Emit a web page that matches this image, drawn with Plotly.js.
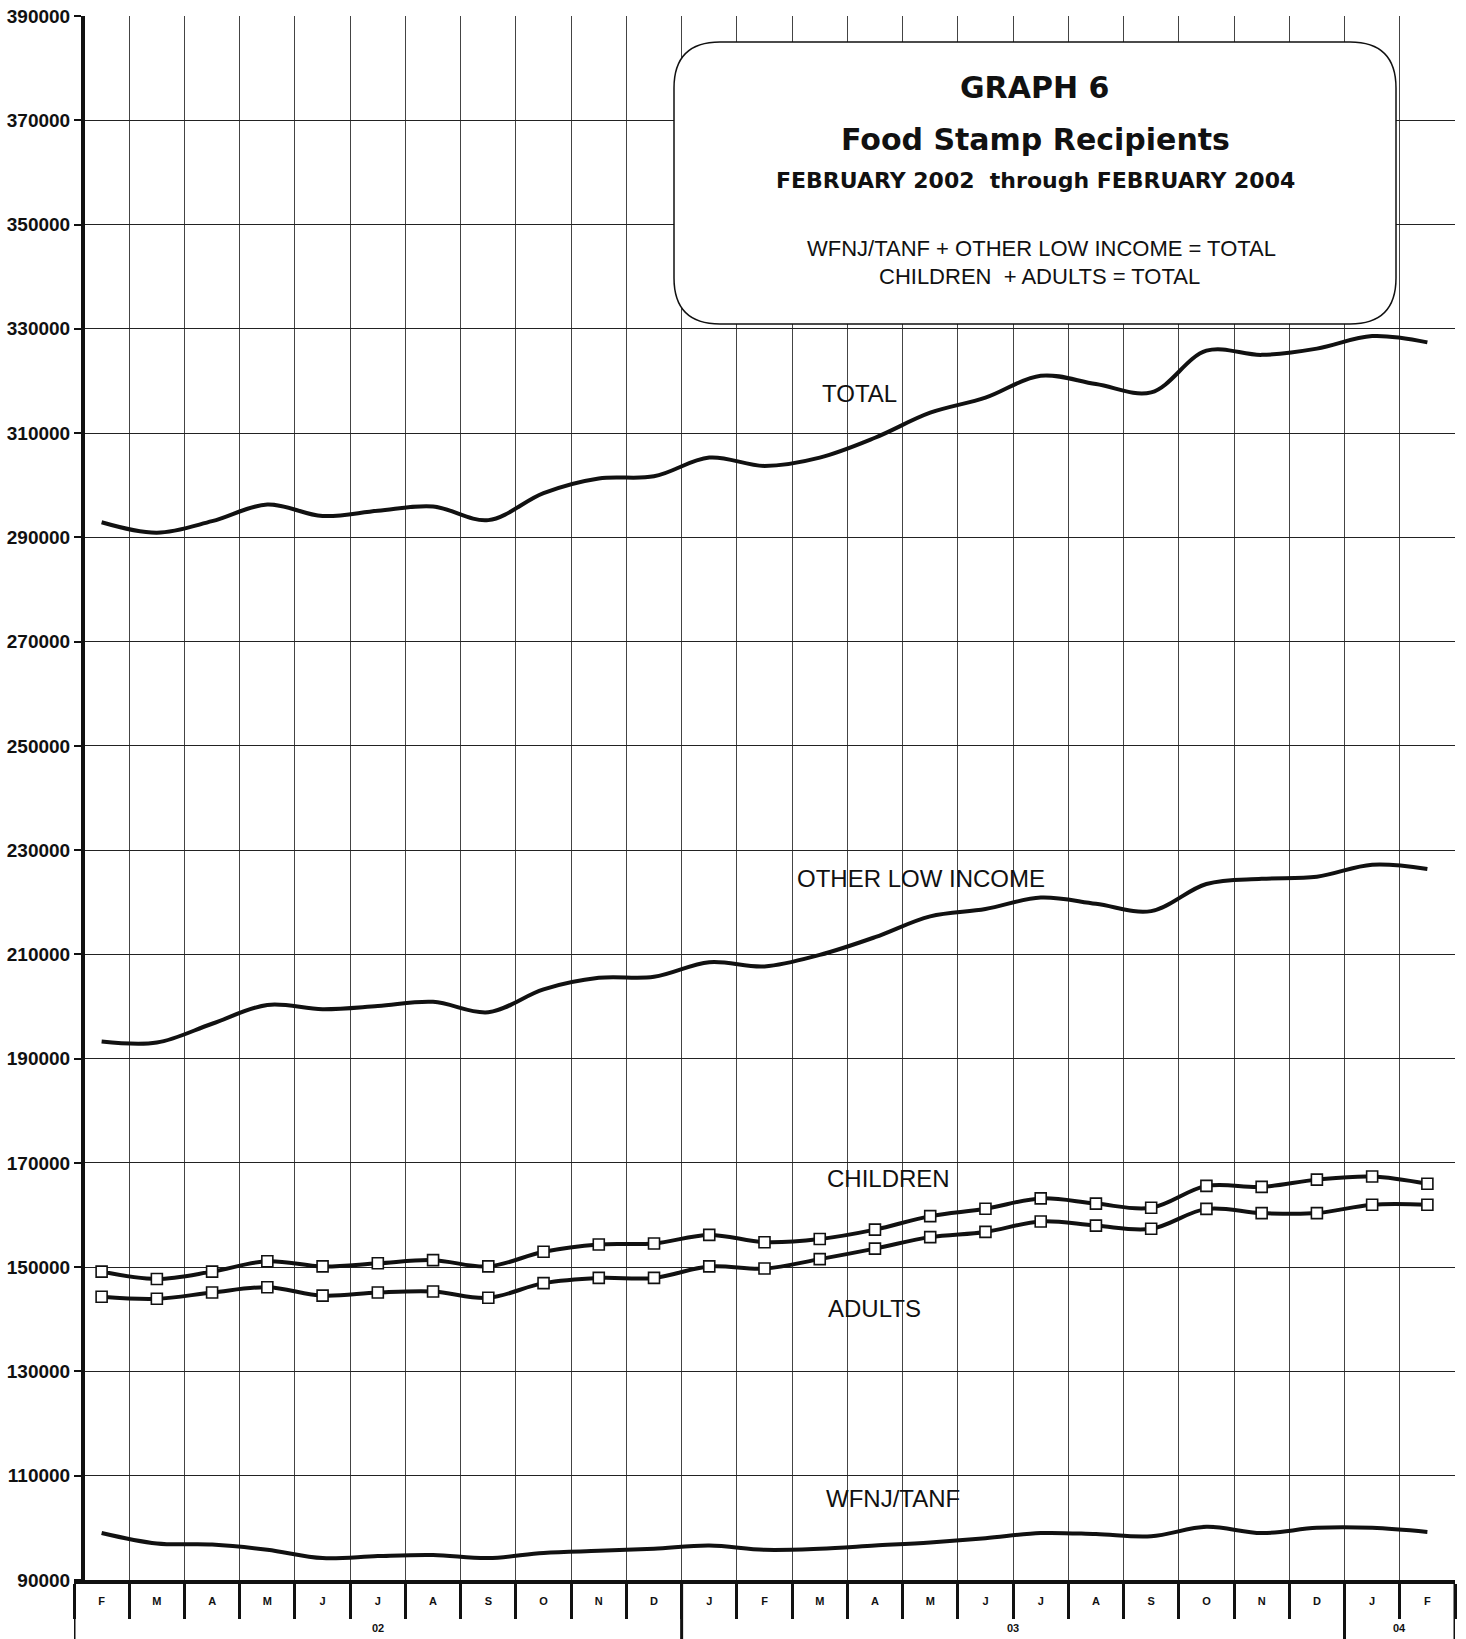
<!DOCTYPE html>
<html>
<head>
<meta charset="utf-8">
<script src="https://cdn.plot.ly/plotly-3.0.1.min.js"></script>
<style>
html,body{margin:0;padding:0;background:#fff;}
#chart{width:1466px;height:1639px;}
</style>
</head>
<body>
<div id="chart"></div>
<script>
// ---- data ----
const periods = ["Feb 02","Mar 02","Apr 02","May 02","Jun 02","Jul 02","Aug 02","Sep 02","Oct 02","Nov 02","Dec 02",
                 "Jan 03","Feb 03","Mar 03","Apr 03","May 03","Jun 03","Jul 03","Aug 03","Sep 03","Oct 03","Nov 03","Dec 03",
                 "Jan 04","Feb 04"];
const monthLetters = ["F","M","A","M","J","J","A","S","O","N","D","J","F","M","A","M","J","J","A","S","O","N","D","J","F"];
const yearLabels = ["02","03","04"];
const yearCenters = [5, 16.5, 23.5];
const yearDividers = [-0.5, 10.5, 22.5, 24.5];

const total    = [292900,290900,293100,296300,294100,295100,295900,293300,298500,301300,301700,
                  305300,303700,305300,309100,313900,316800,321000,319400,317800,325800,325000,326200,328600,327400];
const otherLow = [193300,193100,196700,200300,199500,200100,200900,198900,203300,205500,205700,
                  208500,207700,209900,213300,217300,218700,220900,219700,218300,223500,224500,224900,227200,226400];
const children = [149150,147750,149150,151150,150150,150750,151350,150150,152950,154350,154550,
                  156200,154800,155400,157200,159800,161200,163200,162200,161400,165600,165400,166800,167400,166000];
const adults   = [144340,143940,145140,146150,144540,145140,145340,144140,146950,147950,147950,
                  150150,149750,151550,153560,155770,156770,158780,157980,157380,161190,160380,160380,161990,161990];
const wfnj     = [99020,97000,96800,95800,94200,94600,94800,94200,95200,95600,96000,
                  96600,95800,96000,96600,97200,98000,99000,98800,98400,100200,99000,100000,100000,99200];

// ---- geometry helpers (pixel -> paper) ----
const W = 1466, H = 1639;
const L = 74, R = 1455, T = 16, B = 1580;
const px = p => (p - L) / (R - L);
const py = p => (B - p) / (B - T);

const lineStyle = {color:'#111', width:4, shape:'spline', smoothing:1};
const markerStyle = {symbol:'square', size:11, color:'#fff', line:{color:'#111', width:1.6}};

const traces = [
  {x:periods, y:total, mode:'lines', line:lineStyle, name:'TOTAL'},
  {x:periods, y:otherLow, mode:'lines', line:lineStyle, name:'OTHER LOW INCOME'},
  {x:periods, y:children, mode:'lines+markers', line:lineStyle, marker:markerStyle, name:'CHILDREN'},
  {x:periods, y:adults, mode:'lines+markers', line:lineStyle, marker:markerStyle, name:'ADULTS'},
  {x:periods, y:wfnj, mode:'lines', line:lineStyle, name:'WFNJ/TANF'}
];

// title box (rounded rectangle)
const bx0 = 674, bx1 = 1396, by0 = 42, by1 = 324, rad = 46;
const X0 = px(bx0), X1 = px(bx1), Y0 = py(by1), Y1 = py(by0);
const rx = rad/(R-L), ry = rad/(B-T);
const boxPath = `M ${X0+rx},${Y1} L ${X1-rx},${Y1} Q ${X1},${Y1} ${X1},${Y1-ry} L ${X1},${Y0+ry} Q ${X1},${Y0} ${X1-rx},${Y0} L ${X0+rx},${Y0} Q ${X0},${Y0} ${X0},${Y0+ry} L ${X0},${Y1-ry} Q ${X0},${Y1} ${X0+rx},${Y1} Z`;

const shapes = [
  {type:'path', xref:'paper', yref:'paper', path:boxPath, fillcolor:'#fff', line:{color:'#111', width:1.5}, layer:'above'}
];
yearDividers.forEach(d => shapes.push({type:'line', xref:'x', yref:'paper', x0:d, x1:d, y0:0, y1:py(H), line:{color:'#111', width:3}}));

const lab = (t, x, y, size, bold) => ({text:t, xref:'paper', yref:'paper', x:px(x), y:py(y), showarrow:false,
  xanchor:'center', yanchor:'middle',
  font:{family: bold ? 'DejaVu Sans, Verdana, sans-serif' : 'Liberation Sans, Arial, sans-serif', size:size, color:'#111', weight: bold ? 700 : 400}});

const annotations = [
  lab('GRAPH 6', 1034, 87, 30, true),
  lab('Food Stamp Recipients', 1035, 139, 30, true),
  lab('FEBRUARY 2002&nbsp;&nbsp;through FEBRUARY 2004', 1035, 180, 22, true),
  lab('WFNJ/TANF + OTHER LOW INCOME = TOTAL', 1041, 249, 22, false),
  lab('CHILDREN&nbsp;&nbsp;+ ADULTS = TOTAL', 1039, 277, 22, false),
  lab('TOTAL', 860, 393, 24, false),
  lab('OTHER LOW INCOME', 921, 878, 24, false),
  lab('CHILDREN', 888, 1178, 24, false),
  lab('ADULTS', 874, 1308, 24, false),
  lab('WFNJ/TANF', 893, 1498, 24, false)
];
yearLabels.forEach((t,i) => annotations.push({text:t, xref:'x', yref:'paper', x:yearCenters[i], y:py(1628),
  showarrow:false, xanchor:'center', yanchor:'middle',
  font:{family:'Liberation Sans, Arial, sans-serif', size:11, color:'#111', weight:700}}));

const layout = {
  width:W, height:H,
  margin:{l:L, r:W-R, t:T, b:H-B, pad:0},
  paper_bgcolor:'#fff', plot_bgcolor:'#fff',
  showlegend:false,
  xaxis:{
    type:'category', categoryorder:'array', categoryarray:periods,
    tickmode:'array', tickvals:periods, ticktext:monthLetters,
    tickson:'boundaries', ticks:'outside', ticklen:35, tickwidth:3, tickcolor:'#111',
    ticklabelstandoff:8,
    showgrid:true, gridcolor:'#444', gridwidth:1,
    showline:true, linecolor:'#111', linewidth:4,
    range:[-0.5, 24.5], fixedrange:true,
    tickfont:{family:'Liberation Sans, Arial, sans-serif', size:11, color:'#111', weight:700}
  },
  yaxis:{
    range:[90000, 390000], dtick:20000, tick0:90000, tickformat:'d',
    anchor:'free', position:0.0065,
    ticks:'outside', ticklen:7, tickwidth:2, tickcolor:'#111',
    showgrid:true, gridcolor:'#222', gridwidth:1,
    showline:true, linecolor:'#111', linewidth:4, zeroline:false,
    tickfont:{family:'Liberation Sans, Arial, sans-serif', size:19, color:'#111', weight:700}
  },
  shapes:shapes,
  annotations:annotations
};

Plotly.newPlot('chart', traces, layout, {displayModeBar:false, staticPlot:true});
</script>
</body>
</html>
